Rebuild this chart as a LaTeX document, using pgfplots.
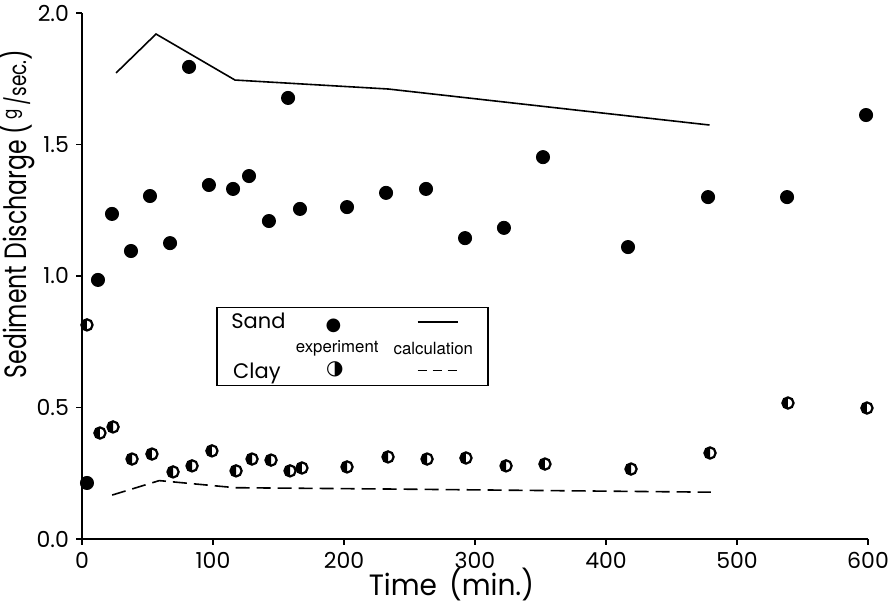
\documentclass[border=0pt]{standalone}
\usepackage{graphicx}
\usepackage{pgfplots}
\pgfplotsset{compat=1.18}
\usetikzlibrary{plotmarks}
\usepackage{fontspec}
\setmainfont{Poppins}
\newfontfamily\heros{TeX Gyre Heros}
\newfontfamily\dejavu{DejaVu Sans}

\begin{document}
\begin{tikzpicture}
\begin{axis}[
    scale only axis,
    width=393pt, height=263pt,
    xmin=0, xmax=600, ymin=0, ymax=2.0,
    axis lines*=left,
    axis line style={line width=1pt,-},
    clip=false,
    xtick={0,100,...,600},
    ytick={0,0.5,1.0,1.5,2.0},
    tick style={black, line width=0.7pt},
    tick align=outside,
    major tick length=3pt,
    yticklabel style={/pgf/number format/fixed, /pgf/number format/precision=1, /pgf/number format/fixed zerofill},
    /pgf/number format/assume math mode=true,
    ticklabel style={font=\fontsize{11}{11}\selectfont},
    xlabel={\scalebox{1}[1.05]{Time\, (min.)}},
    ylabel={\scalebox{0.84}[1.1]{Sediment Discharge (\,\raisebox{0.6ex}{\fontsize{9}{9}\selectfont g}\,{\fontsize{11}{11}\selectfont /sec.})}},
    xlabel style={font=\fontsize{14}{14}\selectfont, inner sep=0pt, at={(axis description cs:0.47,-0.0856)}, anchor=center},
    ylabel style={font=\fontsize{14}{14}\selectfont, at={(axis description cs:-0.083,0.618)}, anchor=center},
]
% sand, experiment
\addplot[only marks, mark=*, mark size=3.3pt, black] coordinates {
    (3.8,0.213) (12.2,0.985) (22.9,1.236) (37.4,1.095) (51.9,1.304)
    (67.2,1.125) (81.7,1.795) (96.9,1.346) (115.3,1.331) (127.5,1.380)
    (142.7,1.209) (157.3,1.677) (166.4,1.255) (202.3,1.262) (232.1,1.316)
    (262.6,1.331) (292.4,1.144) (322.1,1.183) (351.9,1.452) (416.8,1.110)
    (477.9,1.300) (538.2,1.300) (598.5,1.612)
};
% clay, experiment
\addplot[only marks, mark=halfcircle*, mark size=2.8pt, black,
    mark options={fill=white, mark color=black, rotate=-90, line width=1.1pt}] coordinates {
    (3.8,0.814) (13.7,0.403) (23.7,0.426) (38.2,0.304) (53.4,0.323)
    (69.5,0.255) (84.0,0.278) (99.2,0.335) (117.6,0.259) (129.8,0.304)
    (144.3,0.300) (158.8,0.259) (167.9,0.270) (202.3,0.274) (233.6,0.312)
    (263.4,0.304) (293.1,0.308) (323.7,0.278) (353.4,0.285) (419.1,0.266)
    (479.4,0.327) (538.9,0.517) (599.2,0.498)
};
% sand, calculation
\addplot[black, line width=0.8pt] coordinates {
    (26,1.772) (56.5,1.920) (116.8,1.745) (233.6,1.711) (479,1.574)
};
% clay, calculation
\addplot[black, line width=0.8pt, dash pattern=on 7pt off 3.5pt] coordinates {
    (23,0.167) (59,0.222) (117,0.195) (234,0.190) (480,0.178)
};
% legend box
\draw[line width=0.9pt] (axis cs:103,0.880) rectangle (axis cs:310,0.584);
\node[font=\fontsize{10.5}{10.5}\selectfont] at (axis cs:134.7,0.831) {Sand};
\node[font=\fontsize{10.5}{10.5}\selectfont] at (axis cs:133.5,0.630) {Clay};
\node[font=\dejavu\fontsize{9}{9}\selectfont, inner sep=0pt] at (axis cs:192,0.810) {●};
\node[font=\dejavu\fontsize{10}{10}\selectfont, inner sep=0pt] at (axis cs:193,0.645) {◑};
\node[font=\heros\fontsize{8.4}{8.4}\selectfont] at (axis cs:194.8,0.725) {experiment};
\node[font=\heros\fontsize{8.4}{8.4}\selectfont] at (axis cs:268.2,0.725) {calculation};
\node[inner sep=0pt] at (axis cs:271.5,0.824) {\rule{20pt}{0.8pt}};
\node[inner sep=0pt] at (axis cs:271,0.641) {\rule{4.5pt}{0.8pt}\hspace{3pt}\rule{4.5pt}{0.8pt}\hspace{3pt}\rule{4.5pt}{0.8pt}};
\end{axis}
\pgfresetboundingbox
\path ([shift={(-41pt,-34pt)}]current axis.south west) rectangle ([shift={(11.5pt,6.5pt)}]current axis.north east);
\end{tikzpicture}
\end{document}
